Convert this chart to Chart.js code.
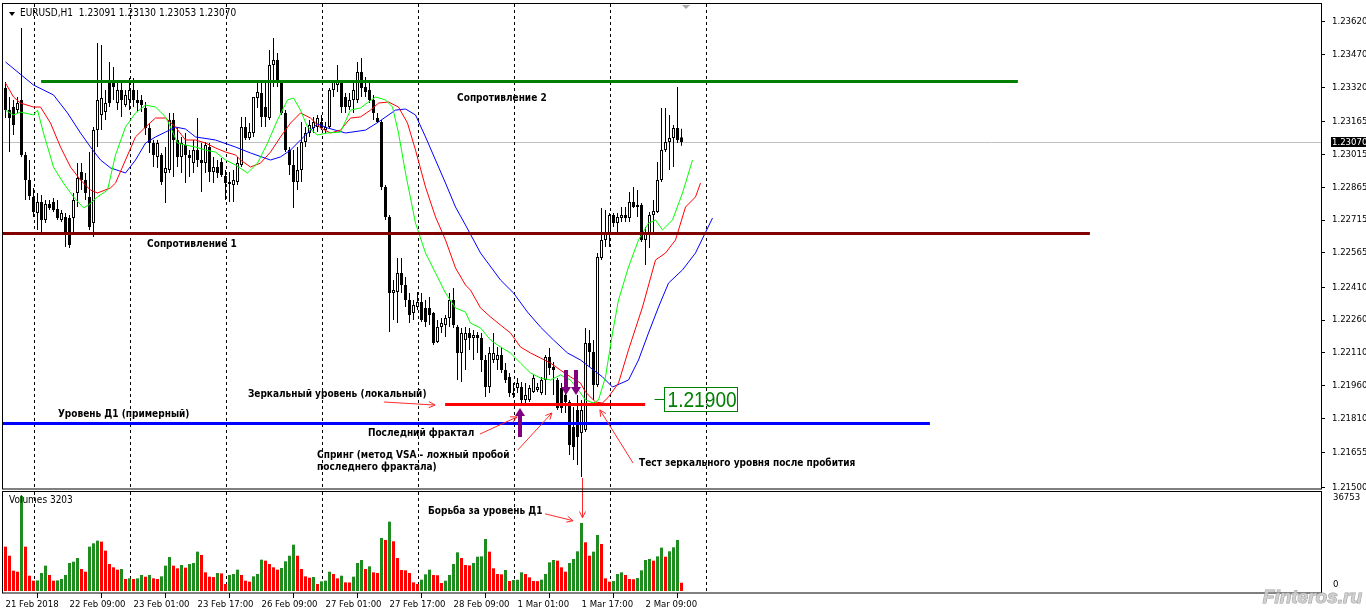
<!DOCTYPE html>
<html>
<head>
<meta charset="utf-8">
<script src="https://cdn.jsdelivr.net/npm/chart.js@4.4.1/dist/chart.umd.min.js"></script>
<style>
  html, body { margin: 0; padding: 0; background: #fff; }
  #wrap { position: relative; width: 1366px; height: 615px; overflow: hidden; background: #fff; }
  canvas { position: absolute; left: 0; }
  #priceChart { top: 0; }
  #volChart { top: 490px; }
</style>
</head>
<body>
<div id="wrap">
  <canvas id="priceChart" width="1366" height="490"></canvas>
  <canvas id="volChart" width="1366" height="125"></canvas>
</div>
<script>
// EURUSD H1, 21 Feb 2018 17:00 .. 2 Mar 2018 18:00 (бар 0 = 21 Feb 17:00)

const symbol = 'EURUSD,H1';

const openP = [
  1.23316,1.23215,1.23229,1.23215,1.23261,1.23011,1.22897,1.22820,1.22747,1.22797,
  1.22715,1.22788,1.22797,1.22765,1.22715,1.22729,1.22724,1.22724,1.22838,1.22933,
  1.22897,1.22820,1.22701,1.23124,1.23193,1.23206,1.23352,1.23352,1.23247,1.23306,
  1.23238,1.23261,1.23306,1.23261,1.23261,1.23225,1.23134,1.23065,1.23002,1.23011,
  1.22929,1.22942,1.23170,1.23079,1.23002,1.23056,1.23011,1.22974,1.23033,1.22988,
  1.22974,1.23047,1.22933,1.22956,1.22979,1.22915,1.22888,1.22874,1.22888,1.22965,
  1.23138,1.23088,1.23111,1.23270,1.23293,1.23229,1.23179,1.23420,1.23443,1.23343,
  1.23202,1.23033,1.22965,1.22888,1.22942,1.23070,1.23111,1.23134,1.23138,1.23161,
  1.23124,1.23138,1.23306,1.23329,1.23343,1.23275,1.23229,1.23261,1.23261,1.23388,
  1.23320,1.23306,1.23261,1.23179,1.23161,1.22865,1.22729,1.22383,1.22387,1.22474,
  1.22419,1.22351,1.22292,1.22319,1.22342,1.22315,1.22315,1.22292,1.22160,1.22228,
  1.22237,1.22269,1.22351,1.22228,1.22110,1.22169,1.22201,1.22178,1.22192,1.22178,
  1.22078,1.21955,1.22078,1.22078,1.22101,1.22032,1.22001,1.21928,1.21951,1.21955,
  1.21896,1.21896,1.21932,1.21941,1.21928,1.21987,1.22092,1.22046,1.21987,1.21951,
  1.21919,1.21887,1.21773,1.21851,1.21746,1.21759,1.22155,1.22114,1.21964,1.22542,
  1.22624,1.22656,1.22738,1.22701,1.22724,1.22738,1.22724,1.22797,1.22783,1.22783,
  1.22624,1.22656,1.22738,1.22751,1.22897,1.23033,1.23070,1.23088,1.23134,1.23091
];
const highP = [
  1.23343,1.23275,1.23261,1.23275,1.23589,1.23024,1.22988,1.22861,1.22838,1.22829,
  1.22806,1.22806,1.22815,1.22806,1.22760,1.22747,1.22738,1.22838,1.22974,1.22974,
  1.22929,1.23024,1.23138,1.23520,1.23511,1.23306,1.23434,1.23411,1.23352,1.23352,
  1.23306,1.23361,1.23361,1.23306,1.23284,1.23252,1.23156,1.23079,1.23079,1.23020,
  1.23047,1.23202,1.23202,1.23134,1.23093,1.23111,1.23033,1.23079,1.23179,1.23065,
  1.23070,1.23065,1.23002,1.22988,1.22997,1.22942,1.22933,1.22942,1.23002,1.23184,
  1.23184,1.23156,1.23275,1.23338,1.23343,1.23338,1.23488,1.23543,1.23475,1.23352,
  1.23215,1.23047,1.23033,1.23047,1.23161,1.23138,1.23170,1.23184,1.23193,1.23193,
  1.23161,1.23316,1.23352,1.23420,1.23352,1.23293,1.23293,1.23338,1.23434,1.23452,
  1.23366,1.23338,1.23284,1.23202,1.23170,1.22874,1.22738,1.22442,1.22542,1.22542,
  1.22456,1.22383,1.22351,1.22387,1.22383,1.22351,1.22365,1.22296,1.22260,1.22269,
  1.22283,1.22383,1.22406,1.22237,1.22224,1.22228,1.22224,1.22214,1.22205,1.22201,
  1.22101,1.22137,1.22201,1.22137,1.22137,1.22064,1.22019,1.21973,1.21996,1.21978,
  1.21973,1.21964,1.22010,1.21973,1.22001,1.22101,1.22133,1.22069,1.21996,1.21973,
  1.21951,1.21896,1.21864,1.21919,1.21896,1.22224,1.22214,1.22169,1.22565,1.22770,
  1.22760,1.22747,1.22747,1.22747,1.22774,1.22774,1.22842,1.22865,1.22851,1.22792,
  1.22683,1.22751,1.22806,1.22979,1.23225,1.23225,1.23193,1.23147,1.23320,1.23130
];
const lowP = [
  1.23179,1.23024,1.23102,1.23202,1.23002,1.22806,1.22806,1.22729,1.22669,1.22647,
  1.22701,1.22760,1.22751,1.22715,1.22706,1.22592,1.22588,1.22656,1.22774,1.22851,
  1.22806,1.22669,1.22638,1.23047,1.23124,1.23170,1.23229,1.23261,1.23215,1.23184,
  1.23229,1.23215,1.23229,1.23206,1.23206,1.23102,1.23020,1.22956,1.22952,1.22874,
  1.22792,1.22929,1.22911,1.22956,1.22929,1.22883,1.22911,1.22929,1.22956,1.22842,
  1.22929,1.22888,1.22883,1.22906,1.22911,1.22806,1.22797,1.22797,1.22874,1.22956,
  1.23079,1.23079,1.23093,1.23225,1.23138,1.23138,1.23170,1.23320,1.23320,1.23193,
  1.23024,1.22920,1.22770,1.22851,1.22888,1.23047,1.23093,1.23111,1.23115,1.23124,
  1.23111,1.23134,1.23275,1.23297,1.23202,1.23202,1.23215,1.23202,1.23247,1.23275,
  1.23275,1.23247,1.23170,1.23156,1.22851,1.22715,1.22205,1.22260,1.22246,1.22383,
  1.22319,1.22246,1.22260,1.22305,1.22251,1.22228,1.22237,1.22146,1.22155,1.22201,
  1.22183,1.22228,1.22224,1.21987,1.21978,1.22032,1.22123,1.22078,1.22110,1.22023,
  1.21910,1.21928,1.22064,1.22032,1.22019,1.21973,1.21910,1.21905,1.21928,1.21873,
  1.21873,1.21887,1.21928,1.21932,1.21919,1.21919,1.22010,1.21919,1.21850,1.21837,
  1.21837,1.21646,1.21623,1.21600,1.21546,1.21750,1.22046,1.21896,1.21955,1.22533,
  1.22592,1.22592,1.22683,1.22656,1.22706,1.22706,1.22706,1.22770,1.22729,1.22615,
  1.22510,1.22588,1.22656,1.22747,1.22888,1.23024,1.22942,1.22956,1.23065,1.23053
];
const closeP = [
  1.23215,1.23179,1.23147,1.23247,1.23011,1.22897,1.22824,1.22751,1.22797,1.22715,
  1.22788,1.22770,1.22760,1.22724,1.22747,1.22656,1.22601,1.22806,1.22906,1.22897,
  1.22838,1.22683,1.23124,1.23261,1.23270,1.23247,1.23247,1.23320,1.23306,1.23261,
  1.23284,1.23306,1.23261,1.23247,1.23238,1.23134,1.23065,1.23011,1.23065,1.22888,
  1.22952,1.23170,1.23079,1.23002,1.23065,1.23011,1.22997,1.23033,1.22988,1.22974,
  1.23056,1.22933,1.22956,1.22929,1.22920,1.22883,1.22879,1.22897,1.22974,1.23138,
  1.23088,1.23115,1.23275,1.23297,1.23184,1.23184,1.23420,1.23443,1.23343,1.23202,
  1.23033,1.22965,1.22888,1.22942,1.23070,1.23111,1.23147,1.23161,1.23179,1.23134,
  1.23138,1.23306,1.23343,1.23352,1.23229,1.23229,1.23261,1.23306,1.23388,1.23316,
  1.23297,1.23261,1.23202,1.23161,1.22865,1.22729,1.22383,1.22396,1.22474,1.22419,
  1.22351,1.22283,1.22328,1.22342,1.22260,1.22251,1.22283,1.22155,1.22228,1.22246,
  1.22269,1.22351,1.22237,1.22110,1.22201,1.22201,1.22178,1.22192,1.22178,1.22078,
  1.21955,1.22110,1.22110,1.22101,1.22032,1.21987,1.21928,1.21919,1.21973,1.21896,
  1.21919,1.21951,1.21996,1.21955,1.21987,1.22092,1.22042,1.22032,1.21860,1.21860,
  1.21887,1.21691,1.21682,1.21728,1.21851,1.22155,1.22114,1.21964,1.22547,1.22624,
  1.22656,1.22738,1.22701,1.22729,1.22738,1.22724,1.22797,1.22774,1.22774,1.22624,
  1.22656,1.22738,1.22756,1.22897,1.23033,1.23070,1.23088,1.23134,1.23079,1.23070
];
const volumes = [
  17150,13650,7860,7470,36753,17150,5920,3990,4100,6970,
  9800,6190,3990,4100,4640,6190,10840,11350,12770,8510,
  7470,17150,18450,19480,19090,15610,10450,9160,8260,8510,
  4640,4900,4640,4900,6190,5540,6190,4900,4640,5670,
  9800,13160,9800,8770,10060,9030,10450,10840,15220,13930,
  7220,5540,5400,6970,6800,2710,6190,6580,8260,6190,
  3990,3610,5670,6580,12120,11740,10450,9160,8260,8900,
  11480,13650,17920,13650,8510,5670,5150,5410,2710,3740,
  3990,7470,6580,4900,5920,3350,3300,5540,10840,11990,
  8510,9550,7220,6970,20510,19740,26820,19220,12770,8120,
  8000,6970,3350,2710,4390,6450,8260,6190,6100,3090,
  3990,6190,10450,14960,12770,10060,9900,10840,13270,13400,
  20120,15220,8770,6580,6450,8120,3870,4260,4350,7220,
  6580,5280,3870,3800,4390,6580,11090,11990,11740,9160,
  7470,10840,12380,15350,26320,18840,13650,15220,21670,18190,
  4900,3610,3870,6580,7220,6190,4640,4550,5030,8000,
  11990,12380,11740,13400,16770,13270,15350,16900,19740,3203
];

// Alligator: [номер бара, цена], линии сдвинуты вправо за последний бар
const jawLine = [
  [0,1.23434],[7,1.23329],[12,1.23284],[15.5,1.23202],[18.75,1.23111],[21.25,1.23047],[23.75,1.22988],
  [26.25,1.22952],[30,1.22929],[32.5,1.22988],[35,1.23065],[37.5,1.23093],[40,1.23115],[42.5,1.23138],
  [45,1.23129],[47.5,1.23093],[52.5,1.23079],[57.5,1.23047],[61.25,1.23020],[66.25,1.22988],[68.75,1.23002],
  [71.25,1.23033],[73.75,1.23079],[76.25,1.23124],[78,1.23152],[80.5,1.23134],[85,1.23111],[90,1.23124],
  [93.25,1.23161],[97.5,1.23215],[100,1.23220],[102.5,1.23193],[105,1.23093],[107.5,1.22988],[110,1.22883],
  [112.5,1.22774],[115,1.22692],[118.75,1.22565],[123.75,1.22442],[127,1.22383],[130.5,1.22296],
  [133.75,1.22228],[137,1.22169],[140.5,1.22110],[143.75,1.22078],[149.25,1.22001],[151.75,1.21955],
  [155.75,1.21987],[158.25,1.22078],[160.75,1.22201],[163.25,1.22319],[165.75,1.22428],[169.25,1.22488],
  [172.5,1.22565],[176.75,1.22724]
];
const teethLine = [
  [0,1.23338],[2,1.23275],[3.75,1.23247],[7,1.23229],[8.75,1.23229],[11.25,1.23156],[13.75,1.23047],
  [16.25,1.22956],[18.75,1.22897],[21.25,1.22851],[23,1.22838],[26.25,1.22861],[27.5,1.22883],[30,1.22988],
  [32.5,1.23093],[35,1.23138],[37.5,1.23179],[40,1.23179],[42.5,1.23138],[45,1.23079],[47.5,1.23079],
  [50,1.23065],[52.5,1.23043],[55,1.23024],[57.5,1.23011],[58.75,1.22988],[61.25,1.22956],[63.75,1.22974],
  [66.25,1.23024],[68.75,1.23093],[71.25,1.23156],[73.75,1.23202],[76.25,1.23179],[78.75,1.23134],
  [81.25,1.23111],[83.75,1.23124],[86.25,1.23179],[88.75,1.23184],[91.25,1.23215],[93.25,1.23247],
  [95.75,1.23252],[98.25,1.23229],[100.5,1.23156],[102.5,1.23033],[105,1.22865],[107.5,1.22729],
  [110,1.22624],[112.5,1.22497],[115,1.22419],[116.25,1.22396],[118.75,1.22315],[121.25,1.22274],
  [123.75,1.22237],[126.25,1.22201],[128.75,1.22137],[131.25,1.22110],[133.75,1.22087],[136.25,1.22064],
  [138.75,1.22032],[141.25,1.22001],[143.75,1.21973],[145,1.21932],[147.5,1.21887],[149.25,1.21882],
  [150.75,1.21910],[153.25,1.21973],[155.75,1.22124],[159.25,1.22319],[162.5,1.22533],[165,1.22565],
  [167.5,1.22624],[170,1.22774],[172.5,1.22820],[173.75,1.22883]
];
const lipsLine = [
  [0,1.23215],[2,1.23193],[3.75,1.23206],[7,1.23193],[8,1.23215],[9.5,1.23111],[12,1.22956],[14.5,1.22883],
  [17,1.22820],[19.5,1.22770],[20.75,1.22783],[23,1.22820],[25.5,1.22851],[27.5,1.23011],[30,1.23138],
  [32.5,1.23202],[35,1.23238],[37.5,1.23229],[40,1.23184],[41.25,1.23138],[43,1.23065],[45,1.23056],
  [47.5,1.23047],[50,1.23033],[52.5,1.23024],[55,1.22988],[57.5,1.22965],[60.5,1.22929],[63,1.22974],
  [65.5,1.23065],[68,1.23170],[70.5,1.23261],[72,1.23270],[73.75,1.23215],[75.5,1.23138],[78,1.23102],
  [80.5,1.23111],[83.75,1.23115],[86.25,1.23215],[88.75,1.23225],[92.5,1.23275],[95,1.23261],
  [96.75,1.23229],[98.25,1.23111],[100,1.22929],[102.5,1.22701],[105,1.22565],[107.5,1.22474],
  [110,1.22383],[112.5,1.22315],[115,1.22296],[116.25,1.22246],[118.75,1.22224],[121.25,1.22169],
  [123.75,1.22137],[126.25,1.22110],[128.75,1.22064],[131.25,1.22019],[133.75,1.21996],[136.25,1.21987],
  [138.75,1.22010],[141.25,1.21987],[143.75,1.21928],[145,1.21896],[147,1.21882],[148.25,1.21896],
  [150,1.22001],[151.75,1.22201],[153.25,1.22351],[155.75,1.22501],[158.25,1.22624],[160.75,1.22701],
  [162.5,1.22715],[164.25,1.22670],[166.75,1.22715],[169.25,1.22838],[171.75,1.22988]
];

const priceTicks = [1.23620,1.23470,1.23320,1.23165,1.23015,1.22865,1.22715,1.22565,
                    1.22410,1.22260,1.22110,1.21960,1.21810,1.21655,1.21500];
const timeTickIdx = [0,16,32,48,64,80,96,112,128,144,160];
const timeTickLabels = ['21 Feb 2018','22 Feb 09:00','23 Feb 01:00','23 Feb 17:00','26 Feb 09:00',
  '27 Feb 01:00','27 Feb 17:00','28 Feb 09:00','1 Mar 01:00','1 Mar 17:00','2 Mar 09:00'];
const daySepIdx = [7,31,55,79,103,127,151,175];
const volTopLabel = 36753;

// горизонтальные уровни (объекты на графике)
const levels = [
  { p: 1.23347, from: 8.9,  to: 253.1, color: '#008000' },
  { p: 1.22656, from: -1,   to: 271.1, color: '#800000' },
  { p: 1.21791, from: -1,   to: 231.1, color: '#0000ff' },
  { p: 1.21878, from: 109.9, to: 159.9, color: '#ff0000' }
];
const notes = [
  { t: 'Сопротивление 2', i: 112.9, p: 1.23270 },
  { t: 'Сопротивление 1', i: 35.4, p: 1.22606 },
  { t: 'Уровень Д1 (примерный)', i: 13.1, p: 1.21832 },
  { t: 'Зеркальный уровень (локальный)', i: 60.6, p: 1.21923 },
  { t: 'Последний фрактал', i: 90.6, p: 1.21746 },
  { t: 'Спринг (метод VSA - ложный пробой', i: 77.9, p: 1.21646 },
  { t: 'последнего фрактала)', i: 77.9, p: 1.21591 },
  { t: 'Тест зеркального уровня после пробития', i: 158.4, p: 1.21609 }
];
const pointers = [
  { i1: 94.6, p1: 1.21887, i2: 107.4, p2: 1.21873 },
  { i1: 118.6, p1: 1.21741, i2: 127.9, p2: 1.21819 },
  { i1: 128.1, p1: 1.21669, i2: 136.6, p2: 1.21837 },
  { i1: 156.9, p1: 1.21609, i2: 148.6, p2: 1.21851 }
];
const fatArrows = [
  { i: 128.6, tip: 1.21860, tail: 1.21728 },
  { i: 140.1, tip: 1.21919, tail: 1.22033 },
  { i: 142.6, tip: 1.21919, tail: 1.22033 }
];
const mirrorLabel = { i: 164.7, p: 1.21900 };
const fightNote = { t: 'Борьба за уровень Д1', i: 105.6, v: 30600, ai1: 134.9, av1: 29850, ai2: 141.9, av2: 27180 };
const fightBar = { i: 144, p: 1.21541, v: 28300 };

const FONT = '"DejaVu Sans Condensed", "Liberation Sans", Arial, sans-serif';
const LABEL_FONT = '"Liberation Sans", Arial, sans-serif';
const NOTE_FONT = 'bold 10px ' + FONT;
const X_MIN = -0.625, X_MAX = 328.875;
const Y_MIN = 1.214911, Y_MAX = 1.236978;
const V_MIN = -766, V_MAX = 38284;
const VOL_GREEN = '#1e8c1e', VOL_RED = '#ff0000';

const idx = openP.map((_, i) => i);

function separators(ctx, x, top, bottom) {
  ctx.save();
  ctx.strokeStyle = '#000';
  ctx.lineWidth = 1;
  ctx.setLineDash([3, 3]);
  daySepIdx.forEach(d => {
    const px = Math.round(x.getPixelForValue(d)) + 0.5;
    ctx.beginPath(); ctx.moveTo(px, top); ctx.lineTo(px, bottom); ctx.stroke();
  });
  ctx.restore();
}

function thinArrow(ctx, x1, y1, x2, y2) {
  ctx.strokeStyle = '#ff2a2a';
  ctx.lineWidth = 1;
  ctx.beginPath(); ctx.moveTo(x1, y1); ctx.lineTo(x2, y2); ctx.stroke();
  const a = Math.atan2(y2 - y1, x2 - x1), L = 7, w = 0.45;
  ctx.beginPath();
  ctx.moveTo(x2 - L * Math.cos(a - w), y2 - L * Math.sin(a - w));
  ctx.lineTo(x2, y2);
  ctx.lineTo(x2 - L * Math.cos(a + w), y2 - L * Math.sin(a + w));
  ctx.stroke();
}

function fatArrow(ctx, cx, yTip, yTail) {
  const dir = yTail > yTip ? 1 : -1;
  const headH = 8, headW = 5, shaftW = 2;
  ctx.fillStyle = '#800080';
  ctx.beginPath();
  ctx.moveTo(cx, yTip);
  ctx.lineTo(cx + headW, yTip + dir * headH);
  ctx.lineTo(cx + shaftW, yTip + dir * headH);
  ctx.lineTo(cx + shaftW, yTail);
  ctx.lineTo(cx - shaftW, yTail);
  ctx.lineTo(cx - shaftW, yTip + dir * headH);
  ctx.lineTo(cx - headW, yTip + dir * headH);
  ctx.closePath();
  ctx.fill();
}

const priceDecor = {
  id: 'priceDecor',
  beforeDatasetsDraw(chart) {
    const { ctx, chartArea: a, scales: { x, y } } = chart;
    ctx.save();
    ctx.strokeStyle = '#c0c0c0';
    ctx.lineWidth = 1;
    const by = Math.round(y.getPixelForValue(closeP[closeP.length - 1])) + 0.5;
    ctx.beginPath(); ctx.moveTo(a.left, by); ctx.lineTo(a.right, by); ctx.stroke();
    ctx.restore();
    separators(ctx, x, a.top, a.bottom);
  },
  afterDatasetsDraw(chart) {
    const { ctx, chartArea: a, scales: { x, y } } = chart;
    ctx.save();
    ctx.beginPath(); ctx.rect(a.left, a.top, a.width, a.height); ctx.clip();

    levels.forEach(l => {
      const py = Math.round(y.getPixelForValue(l.p)) + 0.5;
      ctx.strokeStyle = l.color;
      ctx.lineWidth = 3;
      ctx.beginPath();
      ctx.moveTo(x.getPixelForValue(l.from), py);
      ctx.lineTo(x.getPixelForValue(l.to), py);
      ctx.stroke();
    });

    ctx.fillStyle = '#000';
    ctx.font = NOTE_FONT;
    ctx.textBaseline = 'middle';
    ctx.textAlign = 'left';
    notes.forEach(n => ctx.fillText(n.t, x.getPixelForValue(n.i), y.getPixelForValue(n.p)));

    pointers.forEach(s => thinArrow(ctx,
      x.getPixelForValue(s.i1), y.getPixelForValue(s.p1),
      x.getPixelForValue(s.i2), y.getPixelForValue(s.p2)));

    fatArrows.forEach(f => fatArrow(ctx, Math.round(x.getPixelForValue(f.i)),
      y.getPixelForValue(f.tip), y.getPixelForValue(f.tail)));

    // метка 1.21900
    const mx = Math.round(x.getPixelForValue(mirrorLabel.i)) + 0.5;
    const my = Math.round(y.getPixelForValue(mirrorLabel.p)) + 0.5;
    ctx.strokeStyle = '#008000';
    ctx.lineWidth = 1;
    ctx.beginPath(); ctx.moveTo(mx - 10, my); ctx.lineTo(mx, my); ctx.stroke();
    ctx.strokeRect(mx, my - 12, 73, 24);
    ctx.save();
    ctx.translate(mx + 3, my + 1);
    ctx.scale(0.87, 1);
    ctx.fillStyle = '#008000';
    ctx.font = '22px ' + LABEL_FONT;
    ctx.fillText(mirrorLabel.p.toFixed(5), 0, 0);
    ctx.restore();

    ctx.restore();

    // вертикальная стрелка к объёму (верхняя часть)
    ctx.save();
    const vx = Math.round(x.getPixelForValue(fightBar.i)) + 0.5;
    ctx.strokeStyle = '#ff2a2a';
    ctx.lineWidth = 1;
    ctx.beginPath(); ctx.moveTo(vx, y.getPixelForValue(fightBar.p)); ctx.lineTo(vx, chart.height); ctx.stroke();
    ctx.restore();
  },
  afterDraw(chart) {
    const { ctx, chartArea: a, scales: { y } } = chart;
    ctx.save();
    ctx.strokeStyle = '#000';
    ctx.lineWidth = 1;
    ctx.strokeRect(a.left - 0.5, a.top - 0.5, a.width + 1, a.height + 0.5);

    // заголовок
    const n = closeP.length - 1;
    ctx.fillStyle = '#000';
    ctx.beginPath(); ctx.moveTo(9, 12); ctx.lineTo(15, 12); ctx.lineTo(12, 16); ctx.closePath(); ctx.fill();
    ctx.font = '10px ' + FONT;
    ctx.textBaseline = 'middle';
    ctx.fillText(symbol + '  ' + [openP[n], highP[n], lowP[n], closeP[n]].map(v => v.toFixed(5)).join(' '), 20, 13.5);

    // маркер смещения графика
    ctx.fillStyle = '#a8a8a8';
    ctx.beginPath(); ctx.moveTo(682, a.top + 1); ctx.lineTo(690, a.top + 1); ctx.lineTo(686, a.top + 5); ctx.closePath(); ctx.fill();

    // текущая цена на шкале
    const by = Math.round(y.getPixelForValue(closeP[n]));
    ctx.font = '9.5px ' + FONT;
    ctx.fillStyle = '#000';
    ctx.fillRect(a.right + 10, by - 5, chart.width - a.right - 10, 10);
    ctx.fillStyle = '#fff';
    ctx.fillText(closeP[n].toFixed(5), a.right + 11, by + 0.5);
    ctx.restore();
  }
};

const volDecor = {
  id: 'volDecor',
  beforeDatasetsDraw(chart) {
    const { ctx, chartArea: a, scales: { x } } = chart;
    separators(ctx, x, a.top, a.bottom);
  },
  afterDatasetsDraw(chart) {
    const { ctx, chartArea: a, scales: { x, y } } = chart;
    ctx.save();
    ctx.fillStyle = '#000';
    ctx.font = NOTE_FONT;
    ctx.textBaseline = 'middle';
    ctx.fillText(fightNote.t, x.getPixelForValue(fightNote.i), y.getPixelForValue(fightNote.v));
    thinArrow(ctx, x.getPixelForValue(fightNote.ai1), y.getPixelForValue(fightNote.av1),
                   x.getPixelForValue(fightNote.ai2), y.getPixelForValue(fightNote.av2));
    const vx = Math.round(x.getPixelForValue(fightBar.i)) + 0.5;
    thinArrow(ctx, vx, 0, vx, y.getPixelForValue(fightBar.v));

    ctx.font = '10px ' + FONT;
    ctx.fillText('Volumes ' + volumes[volumes.length - 1], 9, a.top + 8.5);
    ctx.restore();
  },
  afterDraw(chart) {
    const { ctx, chartArea: a, scales: { y } } = chart;
    ctx.save();
    ctx.strokeStyle = '#000';
    ctx.lineWidth = 1;
    ctx.strokeRect(a.left - 0.5, a.top - 0.5, a.width + 1, a.height + 0.5);
    ctx.fillStyle = '#000';
    ctx.font = '9.5px ' + FONT;
    ctx.textBaseline = 'middle';
    ctx.fillText(String(volTopLabel), a.right + 12, y.getPixelForValue(volTopLabel) + 2);
    ctx.fillText('0', a.right + 12, y.getPixelForValue(0) - 6);

    // водяной знак
    ctx.font = 'italic bold 19px ' + LABEL_FONT;
    ctx.textAlign = 'right';
    ctx.fillStyle = 'rgba(205,205,205,0.9)';
    ctx.strokeStyle = 'rgba(150,150,150,0.9)';
    ctx.strokeText('Finteros.ru', 1362, 108);
    ctx.fillText('Finteros.ru', 1362, 108);
    ctx.restore();
  }
};

new Chart(document.getElementById('priceChart'), {
  type: 'bar',
  data: {
    datasets: [
      { type: 'line', data: lipsLine.map(([x, y]) => ({ x, y })), borderColor: '#00ff00', borderWidth: 1, pointRadius: 0, tension: 0 },
      { type: 'line', data: teethLine.map(([x, y]) => ({ x, y })), borderColor: '#ff0000', borderWidth: 1, pointRadius: 0, tension: 0 },
      { type: 'line', data: jawLine.map(([x, y]) => ({ x, y })), borderColor: '#0000ff', borderWidth: 1, pointRadius: 0, tension: 0 },
      {
        data: idx.map(i => ({ x: i, y: [openP[i], closeP[i]] })),
        backgroundColor: idx.map(i => closeP[i] >= openP[i] ? '#ffffff' : '#000000'),
        borderColor: '#000', borderWidth: 1, borderSkipped: false,
        barThickness: 3, grouped: false, minBarLength: 1, inflateAmount: 0
      },
      {
        data: idx.map(i => ({ x: i, y: [lowP[i], highP[i]] })),
        backgroundColor: '#000', borderWidth: 0,
        barThickness: 1, grouped: false, inflateAmount: 0
      }
    ]
  },
  options: {
    responsive: false,
    animation: false,
    devicePixelRatio: 1,
    layout: { padding: { left: 3, top: 4, right: 0, bottom: 1 } },
    plugins: { legend: { display: false }, tooltip: { enabled: false } },
    scales: {
      x: { type: 'linear', display: false, min: X_MIN, max: X_MAX, offset: false },
      y: {
        position: 'right', min: Y_MIN, max: Y_MAX, beginAtZero: false,
        afterBuildTicks: s => { s.ticks = priceTicks.map(v => ({ value: v })); },
        afterFit: s => { s.width = 45; s.paddingTop = 0; s.paddingBottom = 0; },
        grid: { drawOnChartArea: false, drawTicks: true, tickLength: 4, color: '#000' },
        border: { display: false },
        ticks: { color: '#000', padding: 7, font: { family: FONT, size: 9.5 }, callback: v => v.toFixed(5) }
      }
    }
  },
  plugins: [priceDecor]
});

new Chart(document.getElementById('volChart'), {
  type: 'bar',
  data: {
    datasets: [{
      data: idx.map(i => ({ x: i, y: volumes[i] })),
      backgroundColor: idx.map(i => i > 0 && volumes[i] > volumes[i - 1] ? VOL_GREEN : VOL_RED),
      borderWidth: 0, barThickness: 3, inflateAmount: 0
    }]
  },
  options: {
    responsive: false,
    animation: false,
    devicePixelRatio: 1,
    layout: { padding: { left: 3, top: 2, right: 45, bottom: 0 } },
    plugins: { legend: { display: false }, tooltip: { enabled: false } },
    scales: {
      x: {
        type: 'linear', min: X_MIN, max: X_MAX, offset: false,
        afterBuildTicks: s => { s.ticks = timeTickIdx.map(v => ({ value: v })); },
        afterFit: s => { s.height = 22; s.paddingLeft = 0; s.paddingRight = 0; },
        grid: { drawOnChartArea: false, drawTicks: true, tickLength: 5, color: '#000' },
        border: { display: false },
        ticks: {
          autoSkip: false, maxRotation: 0, align: 'start', padding: 1, color: '#000',
          font: { family: FONT, size: 9.5 },
          callback: v => timeTickLabels[timeTickIdx.indexOf(v)]
        }
      },
      y: { display: false, min: V_MIN, max: V_MAX, beginAtZero: false }
    }
  },
  plugins: [volDecor]
});
</script>
</body>
</html>
